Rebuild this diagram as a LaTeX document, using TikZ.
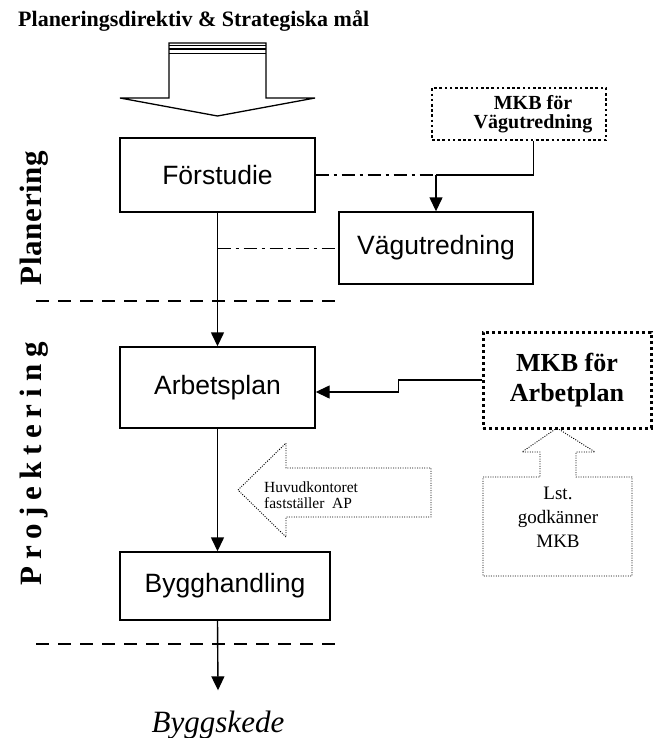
\documentclass[tikz,border=0pt]{standalone}
\usepackage{fontspec}
\setmainfont{Liberation Serif}
\newfontfamily\arialfont{Liberation Sans}
\usepackage{tikz}
\usetikzlibrary{arrows.meta, positioning, calc}

\tikzset{
  %% ---- boxes ----
  stage/.style   = {rectangle, draw=black, line width=1.4pt, fill=white,
                    minimum width=#1, minimum height=74pt, inner sep=0pt,
                    font=\arialfont\fontsize{26.5}{30}\selectfont},
  stage/.default = 195pt,
  mkbbox/.style  = {rectangle, draw=black, line width=#1,
                    dash pattern=on #1 off #1, align=center, inner sep=0pt},
  mkbbox/.default = 2.6pt,
  callout/.style = {draw=black, line width=0.9pt, dash pattern=on 1pt off 1.4pt},
  phase/.style   = {rotate=90, anchor=base, inner sep=0pt,
                    font=\bfseries\fontsize{31}{31}\selectfont\addfontfeatures{LetterSpace=#1}},
  phase/.default = 2,
  %% ---- arrows ----
  arrow/.style   = {-{Triangle[length=14pt,width=13pt]}, line width=1.4pt},
  dashdot/.style = {line width=#1, dash pattern=on 13pt off 5pt on 3pt off 5pt},
  dashdot/.default = 1.5pt,
  phaseline/.style = {line width=1.3pt, dash pattern=on 13pt off 9pt},
}

\begin{document}
\begin{tikzpicture}[x=1pt, y=-1pt]
  \useasboundingbox (0,0) rectangle (656,738);

  %% Title and input arrow
  \node[anchor=base west, inner sep=0pt, font=\bfseries\fontsize{22}{26}\selectfont]
    (direktiv) at (18,27) {Planeringsdirektiv \& Strategiska mål};
  \draw[line width=1.3pt, fill=white, line join=miter]
    (169,43) -- (266,43) -- (266,98) -- (315,98) -- (217.5,116)
    -- (120,98) -- (169,98) -- cycle;
  \foreach \y in {45.5,49,53.5}
    \draw[line width=1.3pt] (169,\y) -- (266,\y);

  %% Phase labels
  \node[phase=2] (planering) at (41,218) {Planering};
  \node[phase=22] (projektering) at (41,464) {Projektering};
  \draw[phaseline] (36,301) -- (336,301);
  \draw[phaseline] (36,644) -- (336,644);

  %% Stages
  \node[stage] (forstudie) at (217.5,175) {Förstudie};
  \node[stage=194pt, minimum height=72pt] (vagutredning) at (436,248) {Vägutredning};
  \node[stage, minimum height=81pt] (arbetsplan) at (217.5,387.5) {Arbetsplan};
  \node[stage=210pt, minimum height=68pt] (bygghandling) at (225,586) {Bygghandling};
  \node[anchor=base, inner sep=0pt, font=\itshape\fontsize{31}{31}\selectfont]
    (skede) at (218,732) {Byggskede};

  %% MKB boxes
  \node[mkbbox=2.6pt, minimum width=174pt, minimum height=52pt] (mkbvag) at (519,114) {};
  \node[align=center, inner sep=0pt, font=\bfseries\fontsize{20}{19}\selectfont]
    (mkbvaglabel) at ([xshift=14pt]mkbvag.center) {MKB för\\Vägutredning};
  \node[mkbbox=3pt, minimum width=168pt, minimum height=96pt,
        font=\bfseries\fontsize{26}{30}\selectfont] (mkbarb) at (567,380)
    {MKB för\\Arbetplan};

  %% Callouts
  \draw[callout] (238,490) -- (286,443) -- (286,468) -- (431,468) -- (431,517)
    -- (286,517) -- (286,537) -- cycle;
  \node[anchor=west, align=left, inner sep=0pt, font=\fontsize{15.5}{16.5}\selectfont]
    (huvudkontoret) at (264,495) {Huvudkontoret\\fastställer~~AP};
  \draw[callout] (557,428) -- (595,452) -- (576,452) -- (576,477) -- (632,477)
    -- (632,576) -- (483,576) -- (483,477) -- (540,477) -- (540,452)
    -- (522,452) -- cycle;
  \node[align=center, inner sep=0pt, font=\fontsize{19}{24}\selectfont]
    (lst) at (558,517) {Lst.\\godkänner\\MKB};

  %% Connectors
  \draw[dashdot] (forstudie.east) -- (forstudie.east -| vagutredning.north);
  \draw[line width=1.4pt] (mkbvag.south -| vagutredning.east)
    |- (forstudie.east -| vagutredning.north);
  \draw[arrow] (forstudie.east -| vagutredning.north) -- (vagutredning.north);
  \draw[dashdot=1pt] (forstudie.south |- vagutredning.west) -- (vagutredning.west);
  \draw[arrow] (forstudie.south) -- (arbetsplan.north);
  \draw[arrow] (mkbarb.west) -- ++(-83,0) |- ([yshift=-4.5pt]arbetsplan.east);
  \draw[arrow] (arbetsplan.south) -- (arbetsplan.south |- bygghandling.north);
  \draw[arrow] (arbetsplan.south |- bygghandling.south) -- ([yshift=20pt]skede.north);

\end{tikzpicture}
\end{document}
